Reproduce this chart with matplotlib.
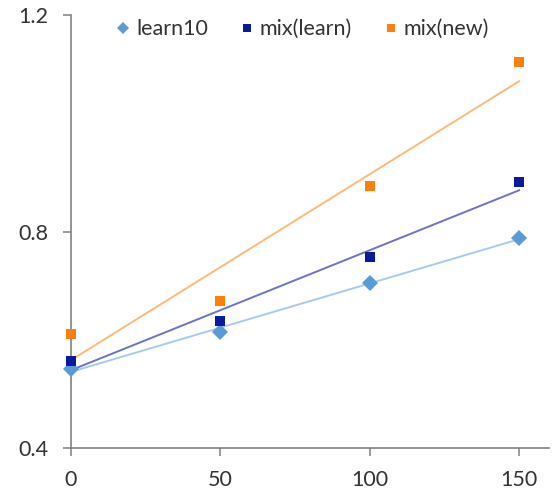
import numpy as np
import matplotlib
matplotlib.use("Agg")
import matplotlib.pyplot as plt

plt.rcParams['font.family'] = ['Lato', 'DejaVu Sans']

x = [0, 50, 100, 150]
learn10 = [0.546, 0.614, 0.705, 0.788]
mix_learn = [0.561, 0.635, 0.753, 0.891]
mix_new = [0.611, 0.672, 0.884, 1.113]
series_names = ["learn10", "mix(learn)", "mix(new)"]
xticks = [0, 50, 100, 150]
yticks = [0.4, 0.8, 1.2]

fig = plt.figure(figsize=(5.6, 4.99), dpi=100)
ax = fig.add_axes([71/560, 51/499, 478/560, 433/499])

styles = [
    (learn10, 'D', '#5B9BD5', '#A9CBEB', 8.5),
    (mix_learn, 's', '#0A1A9C', '#6B73C9', 7.5),
    (mix_new, 's', '#FF7F0E', '#FFB97A', 7.5),
]
xa = np.array(x, dtype=float)
for name, (vals, mk, mc, lc, ms) in zip(series_names, styles):
    coef = np.polyfit(xa, vals, 1)
    xx = np.array([xa.min(), xa.max()])
    ax.plot(xx, np.polyval(coef, xx), color=lc, lw=1.4, zorder=2)
    ax.plot(x, vals, linestyle='none', marker=mk, color=mc, ms=ms,
            markeredgewidth=0, label=name, zorder=3, clip_on=False)

ax.set_xlim(0, 160)
ax.set_ylim(0.4, 1.2)
ax.set_xticks(xticks)
ax.set_xticklabels([str(t) for t in xticks])
ax.set_yticks(yticks)
ax.set_yticklabels([f"{t:.1f}" for t in yticks])

for s in ['top', 'right']:
    ax.spines[s].set_visible(False)
for s in ['left', 'bottom']:
    ax.spines[s].set_color('#808080')
    ax.spines[s].set_linewidth(1.2)
ax.tick_params(axis='both', direction='out', length=6, width=1.1, color='#808080',
               labelsize=15.5, labelcolor='#333333')
ax.tick_params(axis='x', pad=10)
ax.tick_params(axis='y', pad=10)

leg = ax.legend(loc='upper center', bbox_to_anchor=(0.485, 1.01), ncol=3, frameon=False,
                fontsize=15.5, handlelength=0.6, handletextpad=0.3, columnspacing=1.5,
                borderaxespad=0, markerscale=0.75)
for t in leg.get_texts():
    t.set_color('#333333')

fig.savefig("out.png", dpi=100)
